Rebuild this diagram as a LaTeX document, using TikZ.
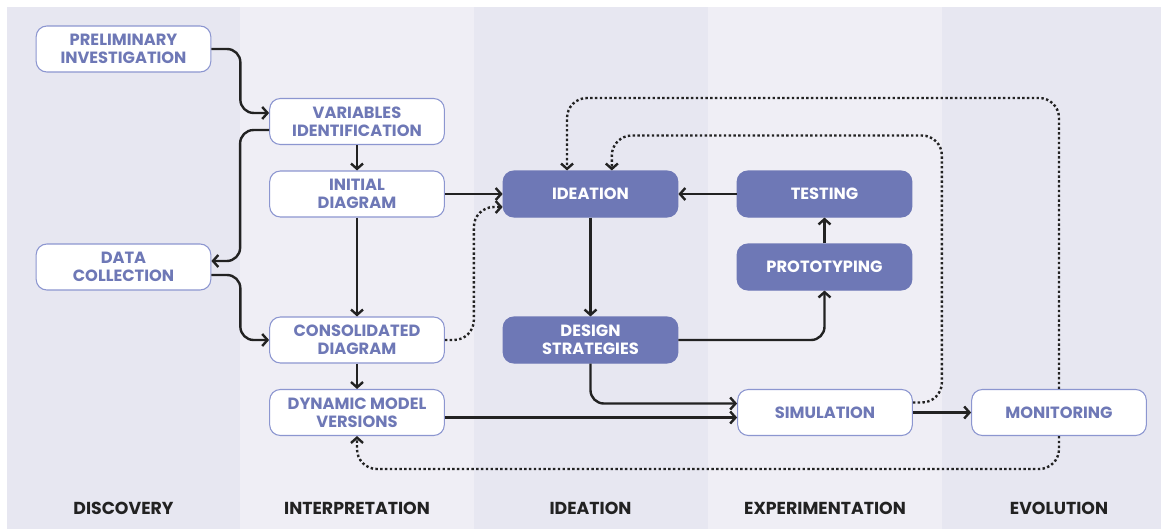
\documentclass[tikz,border=0pt]{standalone}
\usepackage{fontspec}
\setmainfont{Poppins}
\usetikzlibrary{arrows.meta,positioning}

\definecolor{bandA}{RGB}{231,231,241}
\definecolor{bandB}{RGB}{239,238,245}
\definecolor{violet}{RGB}{110,120,182}
\definecolor{edge}{RGB}{140,150,208}
\definecolor{ink}{RGB}{34,34,34}

\begin{document}
\begin{tikzpicture}[x=0.75pt, y=-0.75pt,
    every node/.style={font=\bfseries\fontsize{12.2}{13.5}\selectfont, align=center},
    wbox/.style={draw=edge, line width=0.8pt, fill=white, text=violet, rounded corners=8pt,
                 minimum width=131pt, minimum height=34.5pt, inner sep=0pt},
    fbox/.style={wbox, draw=violet, fill=violet, text=white},
    phase/.style={text=ink, font=\bfseries\fontsize{13}{15}\selectfont},
    conn/.style={draw=ink, line width=1.8pt, rounded corners=10pt,
                 -{Straight Barb[length=4pt,width=9pt]}},
    loop/.style={conn, dash pattern=on 1.8pt off 1.8pt, rounded corners=15pt}]

  % bounding box and phase bands
  \useasboundingbox (0,0) rectangle (1161,529);
  \fill[white] (0,0) rectangle (1161,529);
  \foreach \xa/\xb/\c in {7/240/bandA, 240/474/bandB, 474/708/bandA, 708/942/bandB, 942/1161/bandA}{
    \fill[\c] (\xa,7) rectangle (\xb,529);
  }

  % === phase titles ===
  \node[phase] (tdis) at (123.5,508) {DISCOVERY};
  \node[phase] (tint) at (357,508)   {INTERPRETATION};
  \node[phase] (tide) at (590.5,508) {IDEATION};
  \node[phase] (texp) at (825,508)   {EXPERIMENTATION};
  \node[phase] (tevo) at (1059,508)  {EVOLUTION};

  % === Discovery ===
  \node[wbox] (pi) at (123.5,49)  {PRELIMINARY\\INVESTIGATION};
  \node[wbox] (dc) at (123.5,267) {DATA\\COLLECTION};

  % === Interpretation ===
  \node[wbox] (vi) at (357,121.5) {VARIABLES\\IDENTIFICATION};
  \node[wbox] (id) at (357,194)   {INITIAL\\DIAGRAM};
  \node[wbox] (cd) at (357,340)   {CONSOLIDATED\\DIAGRAM};
  \node[wbox] (dm) at (357,412.5) {DYNAMIC MODEL\\VERSIONS};

  % === Ideation ===
  \node[fbox] (ide) at (590.5,194) {IDEATION};
  \node[fbox] (ds)  at (590.5,340) {DESIGN\\STRATEGIES};

  % === Experimentation / Evolution ===
  \node[fbox] (te)  at (824.5,194)   {TESTING};
  \node[fbox] (pr)  at (824.5,267)   {PROTOTYPING};
  \node[wbox] (sim) at (825,412.5)   {SIMULATION};
  \node[wbox] (mo)  at (1059,412.5)  {MONITORING};

  % solid flows
  \draw[conn] (pi.east) -- ++(29,0) |- ([yshift=6.4pt]vi.west);
  \draw[conn] ([yshift=-6.4pt]vi.west) -- ++(-29,0) |- ([yshift=4.5pt]dc.east);
  \draw[conn] ([yshift=-6pt]dc.east) -- ++(29,0) |- (cd.west);
  \draw[conn] (vi) -- (id);
  \draw[conn] (id) -- (cd);
  \draw[conn] (cd) -- (dm);
  \draw[conn] (id) -- (ide);
  \draw[conn] (te) -- (ide);
  \draw[conn] (pr) -- (te);
  \draw[conn] (ide) -- (ds);
  \draw[conn] (ds.east) -| (pr.south);
  \draw[conn] (ds.south) |- ([yshift=6.75pt]sim.west);
  \draw[conn] ([yshift=-3.75pt]dm.east) -- ([yshift=-3.75pt]sim.west);
  \draw[conn] (sim) -- (mo);

  % dotted feedback loops
  \draw[loop] (cd.east) -- ++(29,0) |- ([yshift=-9.75pt]ide.west);
  \draw[loop] ([yshift=7.5pt]sim.east) -- ++(29,0) -- ++(0,-267) -| ([xshift=16pt]ide.north);
  \draw[loop] (mo.north) -- ++(0,-291) -| ([xshift=-17.6pt]ide.north);
  \draw[loop] (mo.south) -- ++(0,33) -| (dm.south);
\end{tikzpicture}
\end{document}
